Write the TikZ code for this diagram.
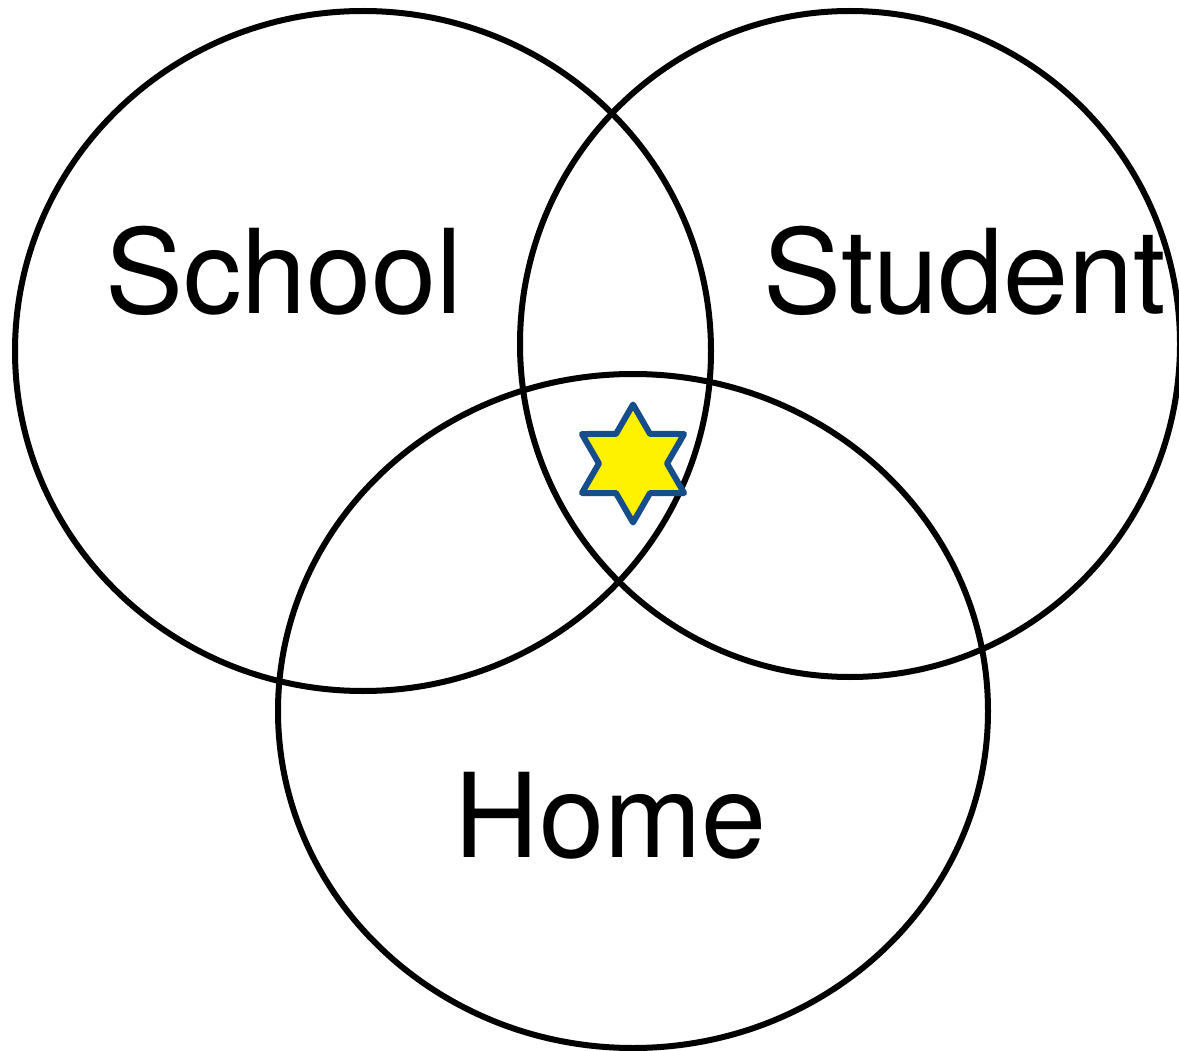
\documentclass[tikz,border=0pt]{standalone}
\usepackage{fontspec}
\setmainfont{TeX Gyre Heros}
\usetikzlibrary{shapes.geometric}
\definecolor{starblue}{RGB}{22,78,140}
\tikzset{
  ring/.style={draw=black, line width=6pt},
  label/.style={anchor=base, inner sep=0pt, font=\fontsize{117}{134}\selectfont},
  hexstar/.style={star, star points=6, star point ratio=1.732, minimum size=118pt,
    inner sep=0pt, fill=yellow, draw=starblue, line width=6pt, line join=round}
}
\begin{document}
\begin{tikzpicture}[x=1pt,y=-1pt]
\useasboundingbox (0,0) rectangle (1179,1051);
\clip (0,0) rectangle (1179,1051);
\fill[white] (0,0) rectangle (1179,1051);
\draw[ring] (363,351) ellipse [x radius=348, y radius=340];
\draw[ring] (850,344) ellipse [x radius=330, y radius=333];
\draw[ring] (633,711) ellipse [x radius=355, y radius=337];
\node[hexstar] (star) at (633,463.5) {};
\node[label] (school) at (284,314) {School};
\node[label] (student) at (965,314) {Student};
\node[label] (home) at (611,857) {Home};
\end{tikzpicture}
\end{document}
